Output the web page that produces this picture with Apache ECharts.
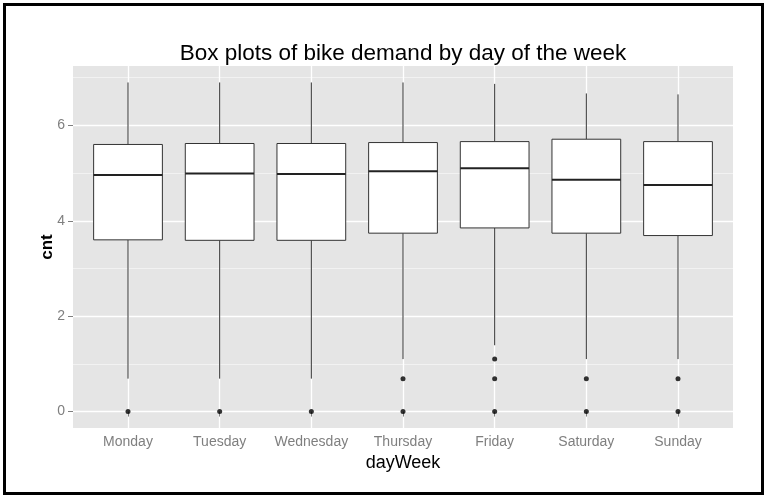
<!DOCTYPE html>
<html>
<head>
    <meta charset="utf-8">
    <script src="https://cdn.jsdelivr.net/npm/echarts@6/dist/echarts.min.js"></script>
    <style>
        html, body { margin: 0; padding: 0; background: #ffffff; }
        #chart { width: 767px; height: 498px; }
    </style>
</head>
<body>
    <div id="chart"></div>
    <script>
        // values (log of counts)
        var days = ['Monday', 'Tuesday', 'Wednesday', 'Thursday', 'Friday', 'Saturday', 'Sunday'];
        var whiskerLow = [0.69, 0.69, 0.69, 1.10, 1.39, 1.10, 1.10];
        var q1 = [3.60, 3.59, 3.59, 3.74, 3.85, 3.74, 3.69];
        var median = [4.96, 4.99, 4.98, 5.04, 5.10, 4.86, 4.75];
        var q3 = [5.60, 5.62, 5.62, 5.64, 5.66, 5.71, 5.66];
        var whiskerHigh = [6.90, 6.90, 6.90, 6.90, 6.87, 6.67, 6.65];
        var outliers = [
            ['Monday', 0], ['Tuesday', 0], ['Wednesday', 0],
            ['Thursday', 0], ['Thursday', 0.69],
            ['Friday', 0], ['Friday', 0.69], ['Friday', 1.10],
            ['Saturday', 0], ['Saturday', 0.69],
            ['Sunday', 0], ['Sunday', 0.69]
        ];
        var majorTicks = [0, 2, 4, 6];
        var minorTicks = [1, 3, 5, 7];
        var yMin = -0.345, yMax = 7.245;

        var boxData = days.map(function (d, i) {
            return [i, whiskerLow[i], q1[i], median[i], q3[i], whiskerHigh[i]];
        });

        var chart = echarts.init(document.getElementById('chart'), null, { renderer: 'canvas' });

        var gray = '#7F7F7F';

        var option = {
            backgroundColor: '#ffffff',
            animation: false,
            textStyle: { fontFamily: 'Liberation Sans, Arial, sans-serif' },
            graphic: [
                {
                    type: 'rect',
                    shape: { x: 4.5, y: 4.5, width: 758, height: 489 },
                    style: { fill: 'none', stroke: '#000', lineWidth: 3 },
                    silent: true
                },
                {
                    type: 'text',
                    x: 403, y: 54,
                    style: {
                        text: 'Box plots of bike demand by day of the week',
                        fontSize: 22.5, fontFamily: 'Liberation Sans, Arial, sans-serif', fill: '#000',
                        align: 'center', verticalAlign: 'middle',
                        textAlign: 'center', textVerticalAlign: 'middle'
                    },
                    silent: true
                }
            ],
            grid: [
                // grey panel
                { left: 73, right: 34, top: 66, bottom: 70, show: true, backgroundColor: '#E5E5E5', borderWidth: 0 },
                // category area, ggplot puts 0.6 band of space on each side
                { left: 128, right: 89, top: 66, bottom: 70 }
            ],
            xAxis: [
                { gridIndex: 0, type: 'value', min: 0, max: 1, show: false },
                {
                    gridIndex: 1,
                    type: 'category',
                    data: days,
                    boundaryGap: false,
                    axisLine: { show: false },
                    axisTick: { show: true, length: 5, interval: 0, lineStyle: { color: gray } },
                    axisLabel: { interval: 0, color: gray, fontSize: 14, margin: 7 },
                    splitLine: { show: true, interval: 0, lineStyle: { color: '#ffffff', width: 1.3 } },
                    name: 'dayWeek',
                    nameLocation: 'middle',
                    nameGap: 24,
                    nameTextStyle: { color: '#000', fontSize: 18 }
                }
            ],
            yAxis: [
                {
                    gridIndex: 0, type: 'value', min: yMin, max: yMax,
                    axisLine: { show: false },
                    axisTick: { show: false, customValues: minorTicks },
                    axisLabel: { show: false, customValues: minorTicks },
                    splitLine: { show: true, lineStyle: { color: '#F2F2F2', width: 1 } }
                },
                {
                    gridIndex: 0, type: 'value', min: yMin, max: yMax, position: 'left',
                    axisLine: { show: false },
                    axisTick: { show: true, length: 5, customValues: majorTicks, lineStyle: { color: gray } },
                    axisLabel: { customValues: majorTicks, color: gray, fontSize: 14, margin: 8 },
                    splitLine: { show: true, lineStyle: { color: '#ffffff', width: 1.3 } },
                    name: 'cnt',
                    nameLocation: 'middle',
                    nameRotate: 90,
                    nameGap: 17,
                    nameMoveOverlap: false,
                    nameTextStyle: { color: '#000', fontSize: 17, fontWeight: 'bold' }
                },
                {
                    gridIndex: 1, type: 'value', min: yMin, max: yMax,
                    axisLine: { show: false }, axisTick: { show: false },
                    axisLabel: { show: false }, splitLine: { show: false }
                }
            ],
            series: [
                {
                    type: 'custom',
                    xAxisIndex: 1,
                    yAxisIndex: 2,
                    data: boxData,
                    encode: { x: 0, y: [1, 2, 3, 4, 5] },
                    renderItem: function (params, api) {
                        var x = api.value(0);
                        var lo = api.coord([x, api.value(1)]);
                        var b1 = api.coord([x, api.value(2)]);
                        var md = api.coord([x, api.value(3)]);
                        var b3 = api.coord([x, api.value(4)]);
                        var hi = api.coord([x, api.value(5)]);
                        var w = api.size([1, 0])[0] * 0.75;
                        var line = { stroke: '#333333', lineWidth: 1 };
                        return {
                            type: 'group',
                            children: [
                                { type: 'line', shape: { x1: lo[0], y1: lo[1], x2: b1[0], y2: b1[1] }, style: line },
                                { type: 'line', shape: { x1: b3[0], y1: b3[1], x2: hi[0], y2: hi[1] }, style: line },
                                {
                                    type: 'rect',
                                    shape: { x: b3[0] - w / 2, y: b3[1], width: w, height: b1[1] - b3[1] },
                                    style: { fill: '#ffffff', stroke: '#333333', lineWidth: 1 }
                                },
                                {
                                    type: 'line',
                                    shape: { x1: md[0] - w / 2, y1: md[1], x2: md[0] + w / 2, y2: md[1] },
                                    style: { stroke: '#222222', lineWidth: 2 }
                                }
                            ]
                        };
                    }
                },
                {
                    type: 'scatter',
                    xAxisIndex: 1,
                    yAxisIndex: 2,
                    data: outliers,
                    symbol: 'circle',
                    symbolSize: 5,
                    itemStyle: { color: '#000000' },
                    silent: true
                }
            ]
        };

        chart.setOption(option);
    </script>
</body>
</html>
